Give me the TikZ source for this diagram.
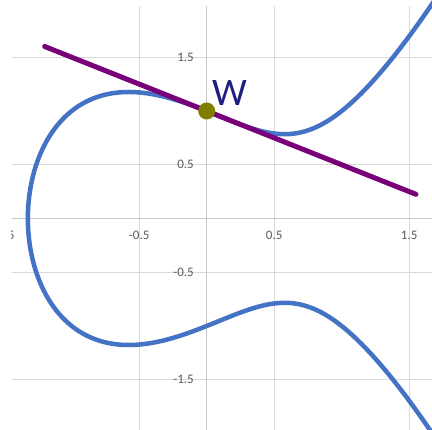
\documentclass[tikz,border=0pt]{standalone}
\usepackage{fontspec}
\setmainfont{Carlito}
\definecolor{gridc}{RGB}{217,217,217}
\definecolor{axisc}{RGB}{200,200,200}
\definecolor{labc}{RGB}{89,89,89}
\definecolor{curvec}{RGB}{68,114,196}
\definecolor{tanc}{RGB}{120,0,120}
\definecolor{ptc}{RGB}{128,128,0}
\definecolor{wc}{RGB}{31,31,127}
\tikzset{
  gridline/.style={gridc, line width=1pt},
  axisline/.style={axisc, line width=1pt},
  ticklab/.style={text=labc, font=\fontsize{13}{15}\selectfont, inner sep=0pt},
  curveline/.style={curvec, line width=4.5pt, line join=round},
  tanline/.style={tanc, line width=5pt, line cap=round},
  ptstyle/.style={circle, fill=ptc, minimum size=17pt, inner sep=0pt},
  wlabel/.style={text=wc, font=\fontsize{39}{42}\selectfont, inner sep=0pt}
}
\begin{document}
\begin{tikzpicture}[x=135pt, y=107.5pt]
\useasboundingbox (-1.5311,-1.9674) rectangle (1.6689,2.0326);
\fill[white] (-1.5311,-1.9674) rectangle (1.6689,2.0326);
% grid
\foreach \gx in {-0.5,0.5,1.5} \draw[gridline] (\gx,-1.9674) -- (\gx,1.9767);
\foreach \gy in {-1.5,-0.5,0.5,1.5} \draw[gridline] (-1.4422,\gy) -- (1.6689,\gy);
\draw[axisline] (0,-1.9674) -- (0,1.9767);
\draw[axisline] (-1.4422,0) -- (1.6689,0);
% tick labels
\foreach \gx/\lab in {-0.5/-0.5,0.5/0.5,1.5/1.5}
  \node[ticklab] (xl\gx) at (\gx,-0.1535) {\lab};
\begin{scope}
  \clip (-1.4459,-1) rectangle (-1.2,1);
  \node[ticklab] (xlm) at (-1.5,-0.1535) {-1.5};
\end{scope}
\foreach \gy/\lab in {1.5/1.5,0.5/0.5,-0.5/-0.5,-1.5/-1.5}
  \node[ticklab, anchor=east] (yl\gy) at (-0.094,\gy) {\lab};
% curve y^2 = x^3 - x + 1
\begin{scope}
  \clip (-1.5311,-1.9674) rectangle (1.6689,2.0326);
  \draw[curveline] plot[domain=-1.77:1.77, samples=240, smooth, variable=\t]
    ({-1.324718+\t*\t}, {\t*sqrt((-1.324718+\t*\t)*(-1.324718+\t*\t) - 1.324718*(-1.324718+\t*\t) + 0.754878)});
\end{scope}
% tangent line through W
\coordinate (tA) at (-1.2,1.6);
\coordinate (tB) at (1.55,0.225);
\draw[tanline] (tA) -- (tB);
\node[ptstyle] (W) at (0,1) {};
\node[wlabel] (Wl) at (0.1726,1.172) {W};
\end{tikzpicture}
\end{document}
